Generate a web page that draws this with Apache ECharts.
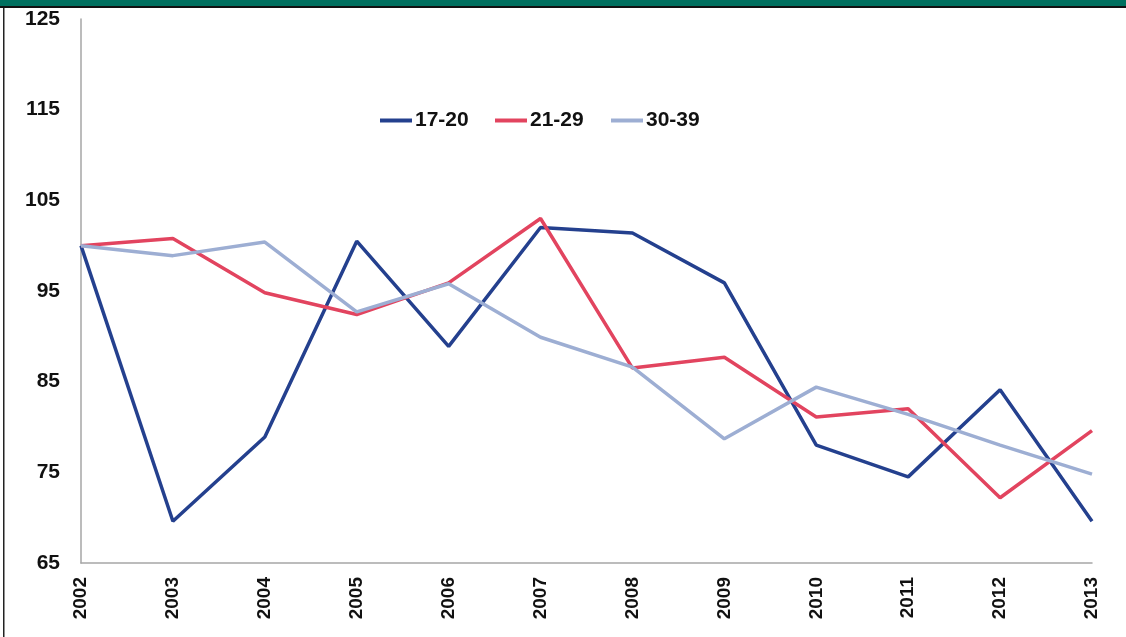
<!DOCTYPE html>
<html>
<head>
<meta charset="utf-8">
<script src="https://cdn.jsdelivr.net/npm/echarts@6/dist/echarts.min.js"></script>
<style>
  html, body { margin: 0; padding: 0; background: #fff; }
  #main { width: 1126px; height: 637px; }
</style>
</head>
<body>
<div id="main"></div>
<script>
// 数据
const years = ["2002", "2003", "2004", "2005", "2006", "2007", "2008", "2009", "2010", "2011", "2012", "2013"];
const age17to20 = [100, 69.6, 78.9, 100.5, 88.9, 102, 101.4, 95.9, 78, 74.5, 84.1, 69.6];
const age21to29 = [100, 100.8, 94.8, 92.4, 95.9, 103, 86.5, 87.7, 81.1, 82, 72.2, 79.6];
const age30to39 = [100, 98.9, 100.4, 92.7, 95.8, 89.9, 86.6, 78.7, 84.4, 81.4, 78, 74.8];
const seriesNames = ["17-20", "21-29", "30-39"];

const myChart = echarts.init(document.getElementById("main"));

function lineSeries(name, data, color) {
  return {
    name: name,
    type: "line",
    data: data,
    symbol: "none",
    lineStyle: { color: color, width: 3.5 },
    itemStyle: { color: color },
    emphasis: { disabled: true },
  };
}

// 每个图例单独定位
const legendLeft = [380, 495, 611];
const legends = seriesNames.map(function (name, i) {
  return {
    top: 110,
    left: legendLeft[i],
    icon: "rect",
    itemWidth: 32,
    itemHeight: 4,
    itemGap: 0,
    padding: 0,
    textStyle: { fontSize: 21, fontWeight: "bold", color: "#111", padding: [0, 0, 0, -2] },
    data: [name],
  };
});

myChart.setOption({
  backgroundColor: "#fff",
  animation: false,
  textStyle: { fontFamily: "Liberation Sans, Arial, sans-serif" },
  grid: { left: 81, right: 34, top: 19, bottom: 74 },
  legend: legends,
  xAxis: {
    type: "category",
    data: years,
    boundaryGap: false,
    axisLine: { lineStyle: { color: "#a6a6a6", width: 1.5 } },
    axisTick: { show: false },
    axisLabel: { rotate: 90, margin: 14, fontSize: 19, fontWeight: "bold", color: "#111" },
  },
  yAxis: {
    type: "value",
    min: 65,
    max: 125,
    interval: 10,
    splitLine: { show: false },
    axisLine: { show: true, lineStyle: { color: "#a6a6a6", width: 1.5 } },
    axisTick: { show: false },
    axisLabel: { margin: 21, fontSize: 21, fontWeight: "bold", color: "#111" },
  },
  graphic: [
    { type: "rect", shape: { x: 0, y: 0, width: 1126, height: 6 }, style: { fill: "#00705f" } },
    { type: "rect", shape: { x: 0, y: 6, width: 1126, height: 2 }, style: { fill: "#111" } },
    { type: "rect", shape: { x: 3, y: 8, width: 1.5, height: 629 }, style: { fill: "#222" } },
  ],
  series: [
    lineSeries(seriesNames[0], age17to20, "#24408e"),
    lineSeries(seriesNames[1], age21to29, "#e2445f"),
    lineSeries(seriesNames[2], age30to39, "#9daed3"),
  ],
});
</script>
</body>
</html>
